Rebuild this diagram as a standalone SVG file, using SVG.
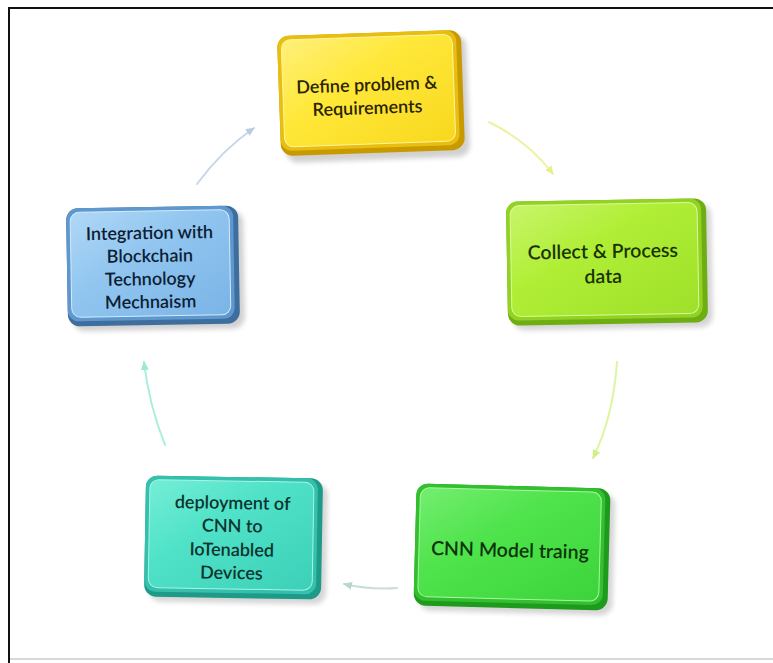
<svg xmlns="http://www.w3.org/2000/svg" width="773" height="663" viewBox="0 0 773 663">
  <defs>
    <filter id="soft" x="-20%" y="-20%" width="140%" height="140%">
      <feGaussianBlur stdDeviation="2.5"/>
    </filter>
    <filter id="lineBlur" x="-10%" y="-10%" width="120%" height="120%">
      <feGaussianBlur stdDeviation="0.6"/>
    </filter>
    <linearGradient id="gYellow" x1="0" y1="0" x2="1" y2="1">
      <stop offset="0" stop-color="#FFF07A"/>
      <stop offset="0.4" stop-color="#FFE83A"/>
      <stop offset="1" stop-color="#F8D81E"/>
    </linearGradient>
    <linearGradient id="gLime" x1="0" y1="0" x2="1" y2="1">
      <stop offset="0" stop-color="#C8F56A"/>
      <stop offset="0.4" stop-color="#B0EE36"/>
      <stop offset="1" stop-color="#9EE02A"/>
    </linearGradient>
    <linearGradient id="gGreen" x1="0" y1="0" x2="1" y2="1">
      <stop offset="0" stop-color="#74EE70"/>
      <stop offset="0.4" stop-color="#4FE34C"/>
      <stop offset="1" stop-color="#3CD43A"/>
    </linearGradient>
    <linearGradient id="gTeal" x1="0" y1="0" x2="1" y2="1">
      <stop offset="0" stop-color="#74EED6"/>
      <stop offset="0.4" stop-color="#4FE2C8"/>
      <stop offset="1" stop-color="#3CD0B8"/>
    </linearGradient>
    <linearGradient id="gBlue" x1="0" y1="0" x2="1" y2="1">
      <stop offset="0" stop-color="#B0D8F6"/>
      <stop offset="0.4" stop-color="#92C6F0"/>
      <stop offset="1" stop-color="#7AB4E6"/>
    </linearGradient>
    <marker id="arrYellow" viewBox="0 0 10 10" refX="8" refY="5" markerWidth="5" markerHeight="5" orient="auto">
      <path d="M0,1 L9,5 L0,9 z" fill="#E8EE90"/>
    </marker>
    <marker id="arrLime" viewBox="0 0 10 10" refX="8" refY="5" markerWidth="5" markerHeight="5" orient="auto">
      <path d="M0,1 L9,5 L0,9 z" fill="#D2F08A"/>
    </marker>
    <marker id="arrGreen" viewBox="0 0 10 10" refX="8" refY="5" markerWidth="5" markerHeight="5" orient="auto">
      <path d="M0,1 L9,5 L0,9 z" fill="#B8D8C8"/>
    </marker>
    <marker id="arrTeal" viewBox="0 0 10 10" refX="8" refY="5" markerWidth="5" markerHeight="5" orient="auto">
      <path d="M0,1 L9,5 L0,9 z" fill="#9EE8D8"/>
    </marker>
    <marker id="arrBlue" viewBox="0 0 10 10" refX="8" refY="5" markerWidth="5" markerHeight="5" orient="auto">
      <path d="M0,1 L9,5 L0,9 z" fill="#B8CCE0"/>
    </marker>
  </defs>
  <style>
    .label { font-family: "Lato", "Open Sans", "Liberation Sans", sans-serif; font-size: 18px; font-weight: 600; text-anchor: middle; }
    .big { font-size: 19.5px; }
    .conn { fill: none; stroke-width: 2; stroke-linecap: round; }
  </style>

  <!-- page background and frame -->
  <rect x="0" y="0" width="773" height="663" fill="#ffffff"/>
  <rect x="9" y="8" width="780" height="651" fill="#ffffff" stroke="#d8d8d8" stroke-width="2"/>
  <path d="M9,663 L9,8 L773,8" fill="none" stroke="#111111" stroke-width="2"/>

  <!-- connectors -->
  <g id="connectors" filter="url(#lineBlur)">
    <path class="conn" d="M489,122 Q528,141 553,174" stroke="#EEF2A0" marker-end="url(#arrYellow)"/>
    <path class="conn" d="M617,362 Q613,418 593,458" stroke="#DDF4A0" marker-end="url(#arrLime)"/>
    <path class="conn" d="M397,588 Q370,590 344,584" stroke="#C8E0D2" marker-end="url(#arrGreen)"/>
    <path class="conn" d="M165,445 Q149,405 144,362" stroke="#A8EEDD" marker-end="url(#arrTeal)"/>
    <path class="conn" d="M197,184 Q222,150 254,128" stroke="#C8D6E6" marker-end="url(#arrBlue)"/>
  </g>

  <!-- Define problem & Requirements -->
  <g id="node-define" transform="rotate(-2 370 93)">
    <rect x="284" y="38" width="184" height="122" rx="12" fill="#000" opacity="0.18" filter="url(#soft)"/>
    <rect x="279" y="33" width="184" height="120" rx="12" fill="#C99A00"/>
    <rect x="279" y="33" width="179" height="115" rx="11" fill="#E8BE10"/>
    <rect x="283" y="37" width="171" height="107" rx="9" fill="url(#gYellow)" stroke="#FFF3A0" stroke-width="1"/>
    <text class="label" x="367" y="91" fill="#2A2400">Define problem &amp;</text>
    <text class="label" x="367" y="114" fill="#2A2400">Requirements</text>
  </g>

  <!-- Collect & Process data -->
  <g id="node-collect" transform="rotate(-1 607 262)">
    <rect x="512" y="205" width="200" height="124" rx="12" fill="#000" opacity="0.16" filter="url(#soft)"/>
    <rect x="507" y="200" width="200" height="124" rx="12" fill="#6EAE12"/>
    <rect x="507" y="200" width="195" height="119" rx="11" fill="#92D222"/>
    <rect x="511" y="204" width="187" height="111" rx="9" fill="url(#gLime)" stroke="#DDF8A0" stroke-width="1"/>
    <text class="label big" x="603" y="258" fill="#1A3400">Collect &amp; Process</text>
    <text class="label big" x="603" y="283" fill="#1A3400">data</text>
  </g>

  <!-- CNN Model traing -->
  <g id="node-cnn" transform="rotate(1.5 512 548)">
    <rect x="420" y="491" width="194" height="122" rx="12" fill="#000" opacity="0.16" filter="url(#soft)"/>
    <rect x="415" y="486" width="194" height="122" rx="12" fill="#1E9A1C"/>
    <rect x="415" y="486" width="189" height="117" rx="11" fill="#32C02E"/>
    <rect x="419" y="490" width="181" height="109" rx="9" fill="url(#gGreen)" stroke="#A8F6A4" stroke-width="1"/>
    <text class="label big" x="510" y="557" fill="#0C340A">CNN Model traing</text>
  </g>

  <!-- deployment of CNN to IoTenabled Devices -->
  <g id="node-deploy" transform="rotate(1 233 538)">
    <rect x="150" y="482" width="177" height="121" rx="12" fill="#000" opacity="0.16" filter="url(#soft)"/>
    <rect x="145" y="477" width="177" height="121" rx="12" fill="#1E9A88"/>
    <rect x="145" y="477" width="172" height="116" rx="11" fill="#34C0AC"/>
    <rect x="149" y="481" width="164" height="108" rx="9" fill="url(#gTeal)" stroke="#A8F4E6" stroke-width="1"/>
    <text class="label" x="232" y="509" fill="#0C342E">deployment of</text>
    <text class="label" x="232" y="532" fill="#0C342E">CNN to</text>
    <text class="label" x="232" y="556" fill="#0C342E">IoTenabled</text>
    <text class="label" x="232" y="579" fill="#0C342E">Devices</text>
  </g>

  <!-- Integration with Blockchain Technology Mechnaism -->
  <g id="node-integration" transform="rotate(-1 154 266)">
    <rect x="72" y="212" width="172" height="118" rx="12" fill="#000" opacity="0.18" filter="url(#soft)"/>
    <rect x="67" y="207" width="172" height="118" rx="12" fill="#3E6E9E"/>
    <rect x="67" y="207" width="167" height="113" rx="11" fill="#5E98CE"/>
    <rect x="71" y="211" width="159" height="105" rx="9" fill="url(#gBlue)" stroke="#D4EAFB" stroke-width="1"/>
    <text class="label" x="150" y="239" fill="#0C1E34">Integration with</text>
    <text class="label" x="150" y="262" fill="#0C1E34">Blockchain</text>
    <text class="label" x="150" y="285" fill="#0C1E34">Technology</text>
    <text class="label" x="150" y="308" fill="#0C1E34">Mechnaism</text>
  </g>
</svg>
